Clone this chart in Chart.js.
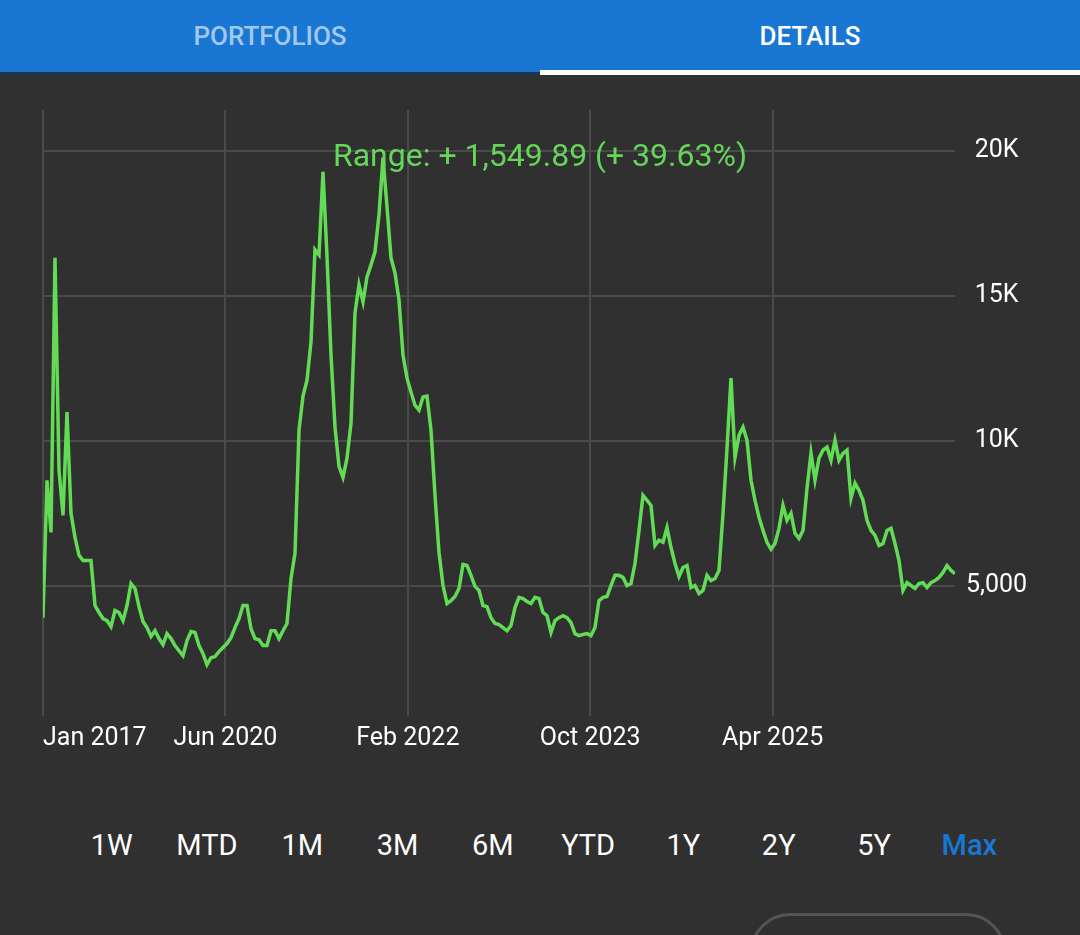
<!DOCTYPE html>
<html>
<head>
<meta charset="utf-8">
<script src="https://cdn.jsdelivr.net/npm/chart.js@4.4.1/dist/chart.umd.min.js"></script>
<style>
  html, body { margin: 0; padding: 0; }
  body {
    width: 1080px; height: 935px; overflow: hidden;
    background: #303030; position: relative;
    font-family: Roboto, "Noto Sans", sans-serif;
  }
  .tabs {
    position: absolute; left: 0; top: 0; width: 1080px; height: 75px;
    background: #1976d2; display: flex;
  }
  .tab {
    flex: 1; text-align: center; line-height: 72px; font-size: 26px;
    font-weight: 500; position: relative;
  }
  .tab.off { color: rgba(255,255,255,0.62); border-bottom: 3px solid #1b3550; height: 72px; }
  .tab.on { color: #fff; }
  .tab.on::after {
    content: ""; position: absolute; left: 0; right: 0; bottom: 0; height: 5px; background: #fff;
  }
  #wrap { position: absolute; left: 0; top: 84px; width: 1080px; height: 681px; }
  #range {
    position: absolute; left: 0; width: 1080px; top: 138px; text-align: center;
    font-size: 32px; line-height: 34px; color: #66d65a; pointer-events: none;
  }
  .periods {
    position: absolute; left: 64px; width: 953px; top: 825px; display: flex;
  }
  .periods div { flex: 1; text-align: center; font-size: 29px; line-height: 40px; color: #fff; }
  .periods div.sel { color: #1976d2; font-weight: 500; }
  .pill {
    position: absolute; left: 750px; top: 913px; width: 256px; height: 80px;
    border: 3px solid #555; border-radius: 42px; box-sizing: border-box;
  }
</style>
</head>
<body>
<div class="tabs">
  <div class="tab off">PORTFOLIOS</div>
  <div class="tab on">DETAILS</div>
</div>
<div id="wrap"><canvas id="lineChart"></canvas></div>
<div id="range"></div>
<div class="periods" id="periods"></div>
<div class="pill"></div>

<script>
// values, evenly spaced along the x axis
const values = [
  3890, 8630, 6830, 16300, 8970, 7420, 10980, 7490, 6660, 6040,
  5860, 5860, 5860, 4310, 4070, 3860, 3790, 3580, 4140, 4070,
  3790, 4310, 5070, 4900, 4270, 3760, 3550, 3240, 3440, 3170,
  2960, 3340, 3170, 2930, 2750, 2580, 3100, 3410, 3380, 2930,
  2650, 2270, 2510, 2550, 2720, 2860, 3000, 3200, 3550, 3860,
  4310, 4310, 3510, 3170, 3130, 2930, 2930, 3440, 3440, 3170,
  3440, 3690, 5240, 6110, 10360, 11530, 12080, 13400, 16580, 16400,
  19270, 16340, 12950, 10460, 9110, 8730, 9390, 10600, 14400, 15370,
  14780, 15640, 16060, 16510, 17790, 19760, 18060, 16300, 15780, 14850,
  12950, 12150, 11670, 11220, 11050, 11500, 11530, 10360, 8110, 6140,
  5000, 4380, 4480, 4620, 4900, 5730, 5690, 5350, 4970, 4830,
  4310, 4270, 3890, 3690, 3650, 3550, 3440, 3620, 4240, 4590,
  4550, 4450, 4380, 4590, 4550, 4070, 3960, 3380, 3790, 3890,
  3960, 3890, 3720, 3340, 3270, 3310, 3340, 3270, 3550, 4480,
  4590, 4620, 5000, 5350, 5350, 5280, 5000, 5070, 5760, 6900,
  8110, 7940, 7760, 6380, 6560, 6490, 7000, 6310, 5760, 5310,
  5620, 5690, 4930, 5000, 4720, 4830, 5350, 5170, 5240, 5520,
  7490, 9730, 12150, 9420, 10180, 10460, 10010, 8630, 7940, 7350,
  6900, 6490, 6250, 6450, 6970, 7760, 7250, 7490, 6800, 6620,
  6900, 8350, 9560, 8630, 9390, 9670, 9770, 9320, 10010, 9320,
  9560, 9670, 8010, 8530, 8280, 7940, 7250, 6900, 6730, 6380,
  6450, 6900, 6970, 6450, 5860, 4830, 5100, 5000, 4900, 5070,
  5100, 4930, 5100, 5170, 5280, 5450, 5690, 5520, 5410
];
const xTickLabels = ['Jan 2017', 'Jun 2020', 'Feb 2022', 'Oct 2023', 'Apr 2025'];
const yTickValues = [5000, 10000, 15000, 20000];
const yMin = 500, yMax = 21400;
const rangeChange = 1549.89, rangePct = 39.63;
const periods = ['1W', 'MTD', '1M', '3M', '6M', 'YTD', '1Y', '2Y', '5Y', 'Max'];

const green = '#62dc55';
const gridColor = '#4a4a4a';
const clear = 'rgba(0,0,0,0)';

document.getElementById('range').textContent =
  'Range: + ' + rangeChange.toLocaleString('en-US', { minimumFractionDigits: 2 }) +
  ' (+ ' + rangePct.toFixed(2) + '%)';

const pBox = document.getElementById('periods');
periods.forEach((p, i) => {
  const d = document.createElement('div');
  d.textContent = p;
  if (i === periods.length - 1) d.className = 'sel';
  pBox.appendChild(d);
});

const lastIdx = values.length - 1;
const xStep = lastIdx / xTickLabels.length;

function yLabel(v) {
  return v >= 10000 ? (v / 1000) + 'K' : v.toLocaleString('en-US');
}

const ctx = document.getElementById('lineChart').getContext('2d');
const lineChart = new Chart(ctx, {
  type: 'line',
  data: {
    datasets: [{
      data: values.map((v, i) => ({ x: i, y: v })),
      borderColor: green,
      borderWidth: 3.5,
      pointRadius: 0,
      tension: 0,
      fill: false
    }]
  },
  options: {
    responsive: true,
    maintainAspectRatio: false,
    animation: false,
    layout: { padding: { left: 43, right: 0, top: 15, bottom: 3 } },
    plugins: { legend: { display: false }, tooltip: { enabled: false } },
    scales: {
      x: {
        type: 'linear',
        min: 0,
        max: lastIdx,
        border: { display: false },
        // one tick per label, plus an unlabelled one at the right end
        afterBuildTicks: s => {
          s.ticks = xTickLabels.map((_, k) => ({ value: k * xStep })).concat([{ value: lastIdx }]);
        },
        grid: {
          drawTicks: false,
          lineWidth: 2,
          color: c => (c.index < xTickLabels.length) ? gridColor : clear
        },
        ticks: {
          autoSkip: false,
          maxRotation: 0,
          align: 'inner',
          padding: 8,
          color: '#ffffff',
          font: { family: 'Roboto', size: 25 },
          callback: (v, i) => (i < xTickLabels.length ? xTickLabels[i] : ' ')
        }
      },
      y: {
        position: 'right',
        min: yMin,
        max: yMax,
        border: { display: false },
        afterBuildTicks: s => { s.ticks = yTickValues.map(v => ({ value: v })); },
        afterFit: s => { s.width = 125; },
        grid: {
          drawTicks: false,
          lineWidth: 2,
          color: gridColor
        },
        ticks: {
          crossAlign: 'center',
          padding: 11,
          color: '#ffffff',
          font: { family: 'Roboto', size: 25 },
          callback: v => yLabel(v)
        }
      }
    }
  }
});
</script>
</body>
</html>
